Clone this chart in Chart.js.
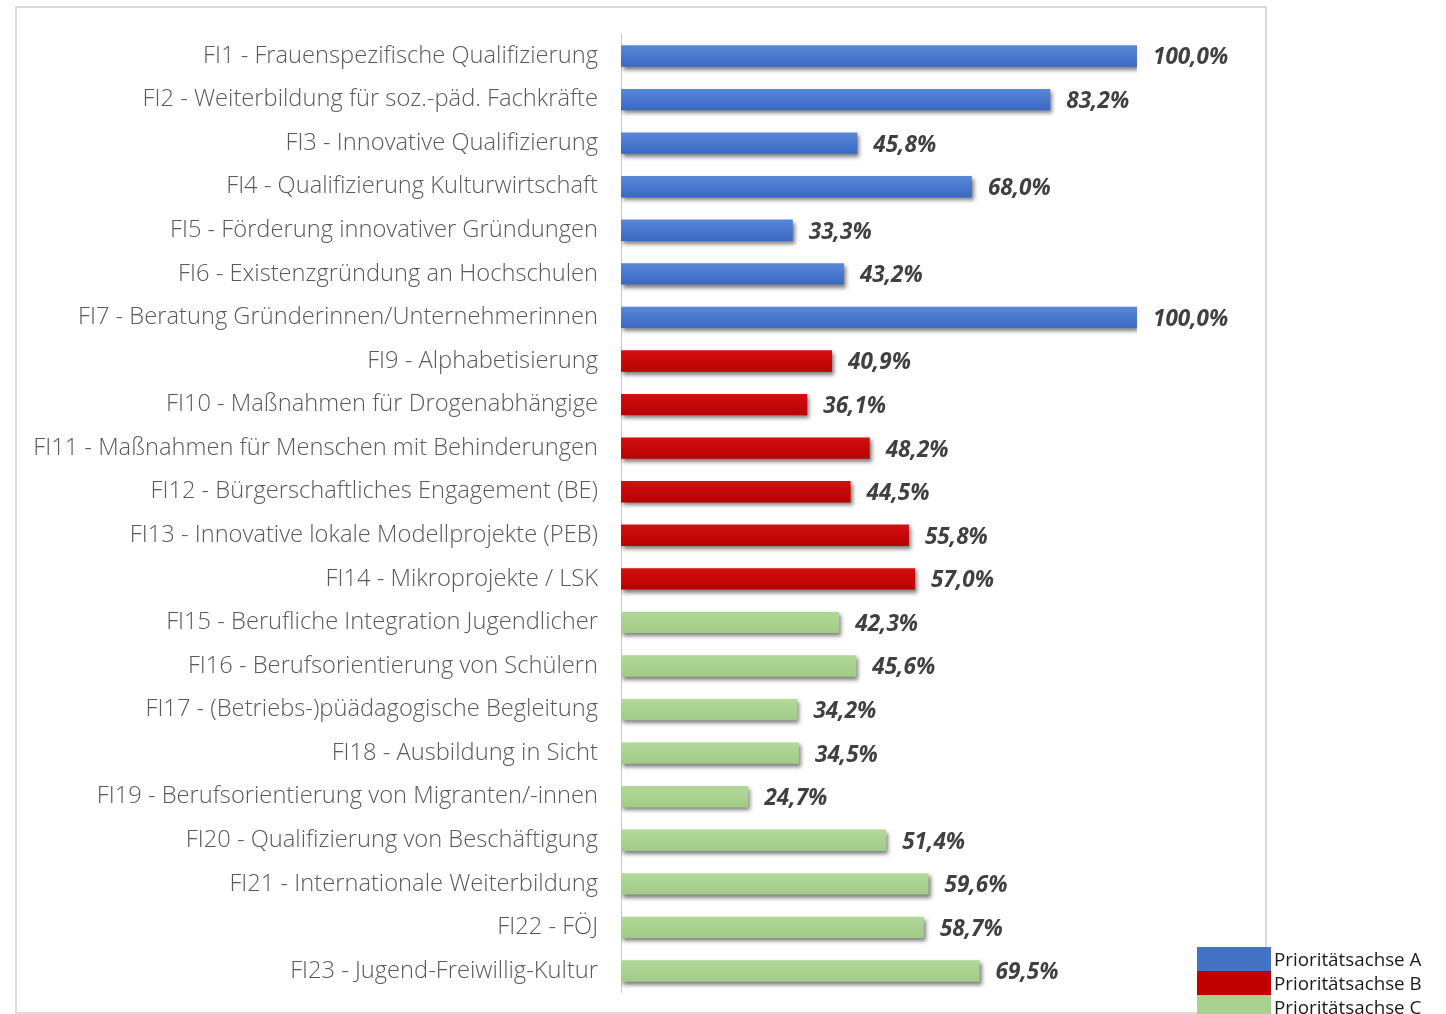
<!DOCTYPE html>
<html><head><meta charset="utf-8">
<script src="https://cdn.jsdelivr.net/npm/chart.js@4"></script>
<style>
html,body{margin:0;padding:0;background:#fff;width:1446px;height:1014px;overflow:hidden;}
#box{position:absolute;left:15px;top:6px;width:1248px;height:1004px;border:2px solid #dcdcdc;}
#c{position:absolute;left:17px;top:5px;}
#legend{position:absolute;left:1197px;top:947px;font-family:"Open Sans",sans-serif;font-size:18.8px;color:#1a1a1a;}
.li{display:flex;align-items:center;height:24px;}
.sw{width:74px;height:24px;margin-right:3px;}
</style></head><body>
<div id="box"></div>
<canvas id="c" width="1248" height="1017"></canvas>
<div id="legend"></div>
<script>
const categories = [
 "FI1 - Frauenspezifische Qualifizierung",
 "FI2 - Weiterbildung für soz.-päd. Fachkräfte",
 "FI3 - Innovative Qualifizierung",
 "FI4 - Qualifizierung Kulturwirtschaft",
 "FI5 - Förderung innovativer Gründungen",
 "FI6 - Existenzgründung an Hochschulen",
 "FI7 - Beratung Gründerinnen/Unternehmerinnen",
 "FI9 - Alphabetisierung",
 "FI10 - Maßnahmen für Drogenabhängige",
 "FI11 - Maßnahmen für Menschen mit Behinderungen",
 "FI12 - Bürgerschaftliches Engagement (BE)",
 "FI13 - Innovative lokale Modellprojekte (PEB)",
 "FI14 - Mikroprojekte / LSK",
 "FI15 - Berufliche Integration Jugendlicher",
 "FI16 - Berufsorientierung von Schülern",
 "FI17 - (Betriebs-)püädagogische Begleitung",
 "FI18 - Ausbildung in Sicht",
 "FI19 - Berufsorientierung von Migranten/-innen",
 "FI20 - Qualifizierung von Beschäftigung",
 "FI21 - Internationale Weiterbildung",
 "FI22 - FÖJ",
 "FI23 - Jugend-Freiwillig-Kultur"
];
const values = [100.0, 83.2, 45.8, 68.0, 33.3, 43.2, 100.0, 40.9, 36.1, 48.2, 44.5, 55.8, 57.0, 42.3, 45.6, 34.2, 34.5, 24.7, 51.4, 59.6, 58.7, 69.5];
const groups = ["A","A","A","A","A","A","A","B","B","B","B","B","B","C","C","C","C","C","C","C","C","C"];
const legendLabels = ["Prioritätsachse A","Prioritätsachse B","Prioritätsachse C"];
const groupKeys = ["A","B","C"];
const groupColors = {A:["#5a88d8","#3a68c2"], B:["#d41010","#b80000"], C:["#b2d99a","#a0cb85"]};

const lg = document.getElementById('legend');
groupKeys.forEach((k,i)=>{
  const d=document.createElement('div');d.className='li';
  d.innerHTML='<div class="sw" style="background:'+(k==='A'?'#4472C4':k==='B'?'#C00000':'#A9D18E')+'"></div><span>'+legendLabels[i]+'</span>';
  lg.appendChild(d);
});

const shadowPlugin = {
  id:'shadow',
  beforeDatasetDraw(chart){const c=chart.ctx;c.save();c.shadowColor='rgba(0,0,0,0.5)';c.shadowBlur=4;c.shadowOffsetX=2;c.shadowOffsetY=3;},
  afterDatasetDraw(chart){chart.ctx.restore();}
};
const valuePlugin = {
  id:'vals',
  afterDatasetsDraw(chart){
    const c=chart.ctx; const meta=chart.getDatasetMeta(0);
    c.save();c.font='italic bold 22.5px "Open Sans"';c.fillStyle='#404040';c.textBaseline='middle';c.textAlign='left';
    meta.data.forEach((b,i)=>{c.fillText(values[i].toFixed(1).replace('.',',')+'%', b.x+16, b.y+2);});
    c.restore();
  }
};

new Chart(document.getElementById('c'),{
  type:'bar',
  data:{labels:categories,datasets:[{data:values,
    backgroundColor(ctx){
      const g=groups[ctx.dataIndex]; const cols=groupColors[g];
      const ch=ctx.chart; const ys=ch.scales.y;
      if(!ys || ys.top===undefined) return cols[1];
      const y=ys.getPixelForValue(ctx.dataIndex);
      if(!isFinite(y)) return cols[1];
      const gr=ch.ctx.createLinearGradient(0,y-11,0,y+11);
      gr.addColorStop(0,cols[0]);gr.addColorStop(1,cols[1]);return gr;
    },
    borderWidth:0,barPercentage:0.98,categoryPercentage:0.5}]},
  options:{
    indexAxis:'y',responsive:false,animation:false,
    layout:{padding:{left:0,right:128,top:12,bottom:2}},
    plugins:{legend:{display:false},tooltip:{enabled:false}},
    scales:{
      x:{display:false,min:0,max:100},
      y:{afterFit(s){s.width=604;},
        grid:{display:false},border:{display:true,color:'#c8c8c8',width:1},
        ticks:{padding:15,color:'#595959',font:{family:'"Open Sans"',size:23.7,weight:300}}}
    }
  },
  plugins:[shadowPlugin,valuePlugin]
});
</script></body></html>
